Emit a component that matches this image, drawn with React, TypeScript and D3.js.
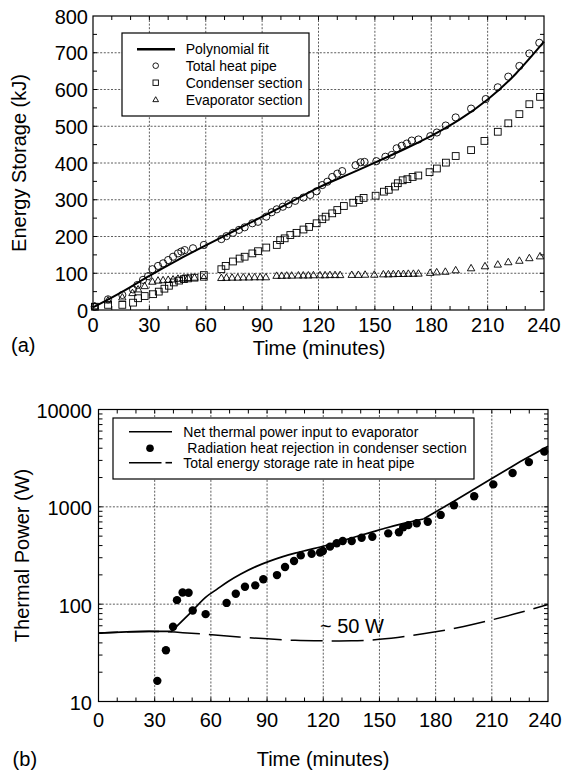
import React from 'react';
import * as d3 from 'd3';

// axis ticks
const timeTicks = [0, 30, 60, 90, 120, 150, 180, 210, 240];
const energyTicks = [0, 100, 200, 300, 400, 500, 600, 700, 800];
const powerTicks = [10, 100, 1000, 10000];

// (a) energy storage, kJ
const totalTime = [0.9, 8, 15.6, 21.3, 23.6, 26.6, 29.3, 31.6, 34.6, 37.3, 40, 42.6, 45.2, 47, 48.8, 53.2, 59, 68.3, 71, 74.5, 77.7, 80.7, 84.8, 87.8, 92.2, 95.1, 97.8, 101, 104, 107.6, 112, 115.6, 119, 122, 124.7, 127.3, 130, 132.6, 139.7, 142.4, 144.5, 150.8, 155.6, 159, 161.6, 164.3, 167, 169.6, 173.2, 179.5, 183, 187.7, 193, 201.2, 209, 215.4, 221, 226.9, 232.2, 237.5];
const totalEnergy = [9, 29, 41, 56, 68, 82, 92, 111, 120, 127, 136, 145, 154, 159, 163, 168, 177, 193, 201, 210, 218, 225, 236, 240, 254, 266, 274, 281, 288, 297, 306, 313, 323, 340, 349, 362, 371, 378, 394, 402, 403, 405, 417, 422, 440, 447, 453, 461, 464, 473, 483, 502, 524, 548, 574, 606, 635, 664, 698, 727];

const condTime = [1, 8, 15.6, 21.3, 24, 27.5, 32, 35, 38, 40.4, 43, 45.8, 48.4, 50.5, 54, 59, 68.3, 70.6, 74.5, 78, 80.7, 84.8, 87.8, 92.2, 97.8, 99.6, 102, 105, 108.3, 112, 115, 119, 122, 123.8, 127.3, 130, 133.5, 138.5, 141.5, 144, 150.4, 154.8, 157.4, 160.7, 162.2, 164.8, 167.3, 170.1, 173.1, 179.1, 183, 187.8, 193, 201.2, 208.3, 215.4, 221, 226.9, 232.2, 237.9];
const condEnergy = [9, 14, 14, 20, 32, 38, 43, 50, 58, 66, 75, 80, 84, 86, 88, 95, 111, 120, 132, 140, 145, 154, 160, 170, 177, 190, 195, 204, 210, 219, 226, 236, 247, 254, 263, 272, 283, 292, 299, 305, 311, 322, 327, 336, 345, 353, 356, 362, 366, 375, 385, 401, 419, 435, 460, 485, 508, 533, 560, 580];

const evapTime = [1, 8, 15.6, 21, 24, 27.5, 31.6, 34.6, 37.3, 40, 42.6, 45.2, 48, 50.5, 54, 59, 68.3, 71, 74, 77, 80, 83, 86, 89, 92, 97.7, 100.4, 103.1, 105.7, 109.3, 111.9, 114.6, 117.3, 120.8, 123.5, 126.1, 128.8, 131.5, 137.7, 141.2, 144.8, 149.7, 154.5, 157.2, 159.8, 162.5, 165.2, 167.8, 170.5, 173.2, 179.4, 182.9, 187.5, 193, 201.2, 208.6, 215.4, 221, 226.9, 232.2, 237.9];
const evapEnergy = [9, 25, 33, 45, 55, 64, 76, 79, 80, 81, 82, 84, 85, 86, 87, 87, 86, 86.5, 87, 87, 87.5, 87.5, 88, 88, 88, 92, 92, 92.5, 92.5, 93, 93, 93, 93.5, 93.5, 93.5, 94, 94, 94, 94.5, 94.5, 95, 95, 96, 96, 96.5, 97, 97, 97.5, 97.5, 98, 100, 101.5, 103, 107, 112.5, 118, 122.5, 129, 133, 140, 145];

const fitTime = [0, 15, 30, 45, 60, 75, 90, 105, 120, 135, 150, 165, 180, 195, 210, 225, 240];
const fitEnergy = [7, 48, 93, 136, 176, 215, 254, 293, 333, 367, 401, 436, 474, 518, 573, 643, 730];

// (b) thermal power, W
const netTime = [0, 15, 30, 39, 50.3, 57, 63, 69, 76, 84, 91, 98, 105, 112, 121, 128, 136, 145, 154, 163, 173.5, 190, 210, 225, 240];
const netPower = [50.5, 52, 52.5, 52.5, 86, 117, 141, 170, 204, 243, 275, 306, 335, 361, 398, 437, 484, 543, 610, 676, 750, 1150, 1950, 2900, 4200];

const radTime = [31.4, 36, 39.8, 41.9, 44.9, 48.1, 50.3, 57.2, 68.4, 73.3, 78.2, 83.7, 88, 95.3, 99.6, 104.4, 108, 113.8, 118.3, 119.8, 123.6, 127.2, 130.4, 135.2, 140.5, 146.2, 154.7, 160.4, 162.7, 165.4, 169.9, 175.8, 182.7, 189.8, 200.6, 210.8, 221.1, 229.8, 238];
const radPower = [16.3, 33.6, 58.7, 110, 132, 131, 86, 79, 103, 128, 151, 156, 180, 199, 241, 278, 317, 330, 340, 352, 390, 422, 445, 445, 482, 492, 534, 549, 616, 649, 678, 703, 826, 1038, 1286, 1700, 2230, 2880, 3690];

const storeTime = [0, 15, 30, 45, 60, 75, 90, 105, 120, 135, 150, 165, 180, 195, 210, 225, 240];
const storePower = [50.5, 52, 52.5, 51, 48.5, 46, 44, 42.5, 42, 42, 43.5, 47, 52, 59, 69, 82, 99];

const FONT = 'Liberation Sans, Arial, Helvetica, sans-serif';
const W = 563;

const xA = d3.scaleLinear().domain([0, 240]).range([93, 544]);
const yA = d3.scaleLinear().domain([0, 800]).range([310, 16]);
const xB = d3.scaleLinear().domain([0, 240]).range([98.5, 548]);
const yB = d3.scaleLog().domain([10, 10000]).range([701.5, 409.5]);

const grid = { stroke: '#333', strokeWidth: 0.8, strokeDasharray: '2,1.6' };

function Frame({ x, y, yMinor, xMinor }: any) {
  const [x0, x1] = x.range();
  const [y0, y1] = y.range();
  const t = 4;
  return (
    <g>
      {xMinor.map((v: number) => (
        <g key={'x' + v}>
          <line x1={x(v)} x2={x(v)} y1={y0} y2={y0 - t} stroke="#000" />
          <line x1={x(v)} x2={x(v)} y1={y1} y2={y1 + t} stroke="#000" />
        </g>
      ))}
      {yMinor.map((v: number) => (
        <g key={'y' + v}>
          <line x1={x0} x2={x0 + t} y1={y(v)} y2={y(v)} stroke="#000" />
          <line x1={x1} x2={x1 - t} y1={y(v)} y2={y(v)} stroke="#000" />
        </g>
      ))}
      <rect x={x0} y={y1} width={x1 - x0} height={y0 - y1} fill="none" stroke="#000" strokeWidth={1.2} />
    </g>
  );
}

function Grid({ x, y, xs, ys }: any) {
  const [x0, x1] = x.range();
  const [y0, y1] = y.range();
  return (
    <g>
      {xs.map((v: number) => (
        <line key={'gx' + v} x1={x(v)} x2={x(v)} y1={y0} y2={y1} {...grid} />
      ))}
      {ys.map((v: number) => (
        <line key={'gy' + v} x1={x0} x2={x1} y1={y(v)} y2={y(v)} {...grid} />
      ))}
    </g>
  );
}

const tri = d3.symbol(d3.symbolTriangle, 24);
const triSmall = d3.symbol(d3.symbolTriangle, 14);

export default function App() {
  const fitLine = d3.line<[number, number]>()
    .x(d => xA(d[0])).y(d => yA(d[1])).curve(d3.curveNatural);
  const linB = d3.line<[number, number]>()
    .x(d => xB(d[0])).y(d => yB(d[1]));
  const smoothB = d3.line<[number, number]>()
    .x(d => xB(d[0])).y(d => yB(d[1])).curve(d3.curveMonotoneX);
  const storeLine = d3.line<[number, number]>()
    .x(d => xB(d[0])).y(d => yB(d[1])).curve(d3.curveNatural);

  const total = d3.zip(totalTime, totalEnergy);
  const cond = d3.zip(condTime, condEnergy);
  const evap = d3.zip(evapTime, evapEnergy);
  const rad = d3.zip(radTime, radPower);
  const net = d3.zip(netTime, netPower) as [number, number][];
  // flat start, steep rise, curved middle, straight (log) end
  const kneeB = netTime.indexOf(50.3);
  const kneeC = netTime.indexOf(173.5);

  const minorLog = yB.ticks().filter(v => v > 10 && v < 10000);

  return (
    <div style={{ position: 'absolute', left: 0, top: 0 }}>
      <svg width={W} height={773} style={{ display: 'block', background: '#fff' }} fontFamily={FONT}>
        {/* ---------- (a) ---------- */}
        <Grid x={xA} y={yA} xs={timeTicks.slice(1, -1)} ys={energyTicks.slice(1, -1)} />
        <Frame x={xA} y={yA} xMinor={d3.range(10, 240, 10)} yMinor={d3.range(50, 800, 50)} />

        {evap.map(([t, v], i) => (
          <path key={'e' + i} d={tri()!} transform={`translate(${xA(t)},${yA(v)})`} fill="none" stroke="#000" strokeWidth={0.9} />
        ))}
        {cond.map(([t, v], i) => (
          <rect key={'c' + i} x={xA(t) - 3.4} y={yA(v) - 3.4} width={6.8} height={6.8} fill="none" stroke="#000" strokeWidth={0.9} />
        ))}
        {total.map(([t, v], i) => (
          <circle key={'t' + i} cx={xA(t)} cy={yA(v)} r={3.6} fill="none" stroke="#000" strokeWidth={0.9} />
        ))}
        <path d={fitLine(d3.zip(fitTime, fitEnergy) as any)!} fill="none" stroke="#000" strokeWidth={2} />

        <g>
          <rect x={122} y={33} width={187} height={83} fill="#fff" stroke="#000" strokeWidth={1.2} />
          <line x1={137} x2={175} y1={49.3} y2={49.3} stroke="#000" strokeWidth={2.4} />
          <circle cx={155.7} cy={65.7} r={2.8} fill="none" stroke="#000" strokeWidth={0.9} />
          <rect x={153} y={80} width={5.4} height={5.4} fill="none" stroke="#000" strokeWidth={0.9} />
          <path d={triSmall()!} transform="translate(155.7,100)" fill="none" stroke="#000" strokeWidth={0.9} />
          {['Polynomial fit', 'Total heat pipe', 'Condenser section', 'Evaporator section'].map((s, i) => (
            <text key={s} x={185.7} y={[49.3, 65.7, 82.7, 100][i]} dy="0.36em" fontSize={14}>{s}</text>
          ))}
        </g>

        {energyTicks.map(v => (
          <text key={'ya' + v} x={88} y={yA(v)} dy="0.38em" fontSize={20} textAnchor="end">{v}</text>
        ))}
        {timeTicks.map(v => (
          <text key={'xa' + v} x={Math.min(xA(v), W - 18)} y={332} fontSize={20} textAnchor="middle">{v}</text>
        ))}
        <text x={319} y={354.5} fontSize={20} textAnchor="middle">Time (minutes)</text>
        <text x={11} y={352} fontSize={20}>(a)</text>
        <text transform={`translate(26,${(16 + 310) / 2}) rotate(-90)`} fontSize={20} textAnchor="middle">Energy Storage (kJ)</text>

        {/* ---------- (b) ---------- */}
        <Grid x={xB} y={yB} xs={timeTicks.slice(1, -1)} ys={powerTicks.slice(1, -1)} />
        <Frame x={xB} y={yB} xMinor={d3.range(10, 240, 10)} yMinor={minorLog} />

        <path d={storeLine(d3.zip(storeTime, storePower) as any)!} fill="none" stroke="#000" strokeWidth={1.5} strokeDasharray="32,9" strokeDashoffset={12.5} />
        <path d={linB(net.slice(0, kneeB + 1))!} fill="none" stroke="#000" strokeWidth={1.7} />
        <path d={smoothB(net.slice(kneeB, kneeC + 1))!} fill="none" stroke="#000" strokeWidth={1.7} />
        <path d={linB(net.slice(kneeC))!} fill="none" stroke="#000" strokeWidth={1.7} />
        {rad.map(([t, v], i) => (
          <circle key={'r' + i} cx={xB(t)} cy={yB(v)} r={4.2} fill="#000" />
        ))}
        <text x={320} y={633} fontSize={20}>~ 50 W</text>

        <g>
          <rect x={113} y={418} width={361} height={61} fill="#fff" stroke="#000" strokeWidth={1.2} />
          <line x1={129} x2={172} y1={431.7} y2={431.7} stroke="#000" strokeWidth={1.6} />
          <circle cx={150} cy={448.3} r={3.8} fill="#000" />
          <line x1={129} x2={161.5} y1={462.7} y2={462.7} stroke="#000" strokeWidth={1.6} />
          <line x1={165.5} x2={172} y1={462.7} y2={462.7} stroke="#000" strokeWidth={1.6} />
          <text x={183.3} y={431.7} dy="0.36em" fontSize={14}>Net thermal power input to evaporator</text>
          <text x={187.3} y={448.3} dy="0.36em" fontSize={14}>Radiation heat rejection in condenser section</text>
          <text x={183.3} y={462.7} dy="0.36em" fontSize={14}>Total energy storage rate in heat pipe</text>
        </g>

        {powerTicks.map(v => (
          <text key={'yb' + v} x={92} y={yB(v)} dy="0.42em" fontSize={20} textAnchor="end">{v}</text>
        ))}
        {timeTicks.map(v => (
          <text key={'xb' + v} x={Math.min(xB(v), W - 18)} y={727} fontSize={20} textAnchor="middle">{v}</text>
        ))}
        <text x={323} y={766} fontSize={20} textAnchor="middle">Time (minutes)</text>
        <text x={12.6} y={766} fontSize={20}>(b)</text>
        <text transform={`translate(29,${(409.5 + 701.5) / 2}) rotate(-90)`} fontSize={20} textAnchor="middle">Thermal Power (W)</text>
      </svg>
    </div>
  );
}
